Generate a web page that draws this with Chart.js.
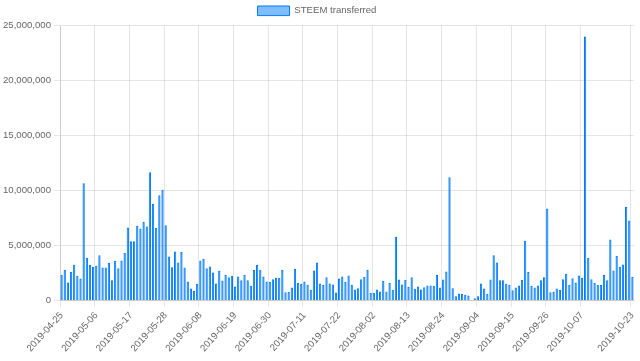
<!DOCTYPE html>
<html>
<head>
<meta charset="utf-8">
<script src="https://cdn.jsdelivr.net/npm/chart.js@4.4.0/dist/chart.umd.min.js"></script>
<style>
  body { margin: 0; background: #fff; }
  #wrap { width: 640px; height: 361px; position: relative; }
</style>
</head>
<body>
<div id="wrap"><canvas id="graphique"></canvas></div>
<script>
// jours du 2019-04-25 au 2019-10-23
const startDate = "2019-04-25";
const nbJours = 182;

// STEEM transférés par jour
const steemTransferred = [
  2370000, 2820000, 1670000, 2640000, 3280000, 2280000, 2030000, 10680000, 3920000, 3280000,
  3100000, 3190000, 4130000, 3030000, 3030000, 3430000, 1880000, 3640000, 2970000, 3670000,
  4340000, 6650000, 5400000, 5400000, 6830000, 6580000, 7190000, 6740000, 11680000, 8800000,
  6610000, 9590000, 10100000, 6860000, 4030000, 3060000, 4490000, 3490000, 4430000, 3030000,
  1760000, 1120000, 910000, 1550000, 3670000, 3820000, 2970000, 3120000, 2580000, 1580000,
  2730000, 1850000, 2370000, 2150000, 2280000, 1300000, 2210000, 1880000, 2370000, 1880000,
  1370000, 2790000, 3280000, 2820000, 2210000, 1760000, 1700000, 1970000, 2090000, 2090000,
  2820000, 790000, 820000, 1210000, 2910000, 1610000, 1520000, 1760000, 1460000, 1000000,
  2760000, 3490000, 1580000, 1430000, 2150000, 1580000, 1490000, 760000, 2030000, 2210000,
  1700000, 2300000, 1460000, 1030000, 1150000, 1970000, 2180000, 2820000, 700000, 730000,
  1030000, 850000, 1820000, 850000, 1610000, 1000000, 5830000, 1940000, 1490000, 1910000,
  1270000, 2150000, 1090000, 1300000, 1030000, 1240000, 1390000, 1390000, 1370000, 2370000,
  1210000, 1940000, 2670000, 11230000, 1150000, 420000, 670000, 640000, 550000, 480000,
  20000, 240000, 420000, 1580000, 1120000, 640000, 1940000, 4130000, 3490000, 1880000,
  1880000, 1550000, 1460000, 970000, 1210000, 1390000, 1910000, 5460000, 2610000, 1340000,
  1210000, 1390000, 1880000, 2150000, 8380000, 790000, 850000, 1120000, 1000000, 1970000,
  2460000, 1460000, 2060000, 1670000, 2300000, 2090000, 24000000, 3920000, 1970000, 1640000,
  1460000, 1430000, 2370000, 1880000, 5580000, 2760000, 4100000, 3100000, 3310000, 8520000,
  7290000, 2180000
];

const yTicks = [0, 5000000, 10000000, 15000000, 20000000, 25000000];

// étiquettes de dates
const dates = [];
const d0 = new Date(startDate + "T00:00:00Z");
for (let i = 0; i < nbJours; i++) {
  const d = new Date(d0.getTime() + i * 86400000);
  dates.push(d.toISOString().slice(0, 10));
}

// une étiquette tous les 11 jours + la dernière
function labelVisible(i) {
  const last = dates.length - 1;
  return i === last || (i % 11 === 0 && last - i >= 11);
}

const gris = "rgba(0,0,0,0.1)";
const police = { family: "'Liberation Sans', Arial, sans-serif", size: 9.6 };

new Chart(document.getElementById("graphique").getContext("2d"), {
  type: "bar",
  data: {
    labels: dates,
    datasets: [{
      label: "STEEM transferred",
      data: steemTransferred,
      backgroundColor: "rgba(0, 123, 255, 0.5)",
      borderColor: "rgb(0, 123, 255)",
      borderWidth: 1
    }]
  },
  options: {
    responsive: true,
    maintainAspectRatio: false,
    animation: false,
    events: [],
    layout: { padding: { right: 6, bottom: 4 } },
    plugins: {
      legend: {
        labels: {
          color: "#666",
          font: police,
          boxWidth: 32,
          boxHeight: 9.6,
          padding: 6
        }
      },
      tooltip: { enabled: false }
    },
    scales: {
      x: {
        afterFit: function(s) { s.paddingRight = 0; },
        grid: {
          // ligne seulement aux dates affichées (pas la ligne de fin)
          color: function(ctx) {
            if (ctx.type !== "tick") return "rgba(0,0,0,0)";
            return labelVisible(ctx.index) ? gris : "rgba(0,0,0,0)";
          },
          tickLength: 6
        },
        border: { display: true, color: gris },
        ticks: {
          autoSkip: false,
          minRotation: 48,
          maxRotation: 48,
          color: "#666",
          font: police,
          callback: function(val, i) {
            return labelVisible(i) ? dates[i] : "";
          }
        }
      },
      y: {
        min: 0,
        max: 25000000,
        afterBuildTicks: function(axis) {
          axis.ticks = yTicks.map(v => ({ value: v }));
        },
        grid: { color: gris, tickLength: 6 },
        border: { color: gris },
        ticks: {
          color: "#666",
          font: police,
          callback: function(v) { return v.toLocaleString("en-US"); }
        }
      }
    }
  }
});
</script>
</body>
</html>
